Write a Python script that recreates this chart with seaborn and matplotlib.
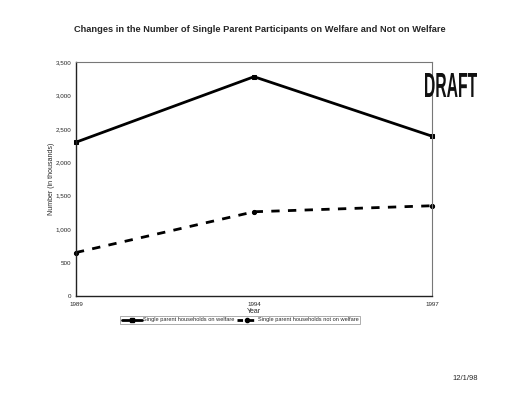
import pandas as pd
import matplotlib
matplotlib.use("Agg")
import matplotlib.pyplot as plt
import seaborn as sns
from matplotlib.lines import Line2D
from matplotlib.textpath import TextPath
from matplotlib.patches import PathPatch
from matplotlib.font_manager import FontProperties

# data (thousands)
years = ["1989", "1994", "1997"]
on_welfare = [2300, 3280, 2390]
not_on_welfare = [650, 1260, 1350]

df = pd.DataFrame({
    "Year": years * 2,
    "Number": on_welfare + not_on_welfare,
    "Group": ["Single parent households on welfare"] * 3
             + ["Single parent households not on welfare"] * 3,
})

sns.set_style("white")
plt.rcParams["font.family"] = ["Liberation Sans", "DejaVu Sans"]

fig = plt.figure(figsize=(5.2, 4), dpi=100)
ax = fig.add_axes([0.146, 0.26, 0.685, 0.585])

sns.lineplot(data=df, x="Year", y="Number", hue="Group", style="Group",
             palette=["black", "black"], dashes=[(None, None), (3, 3)],
             markers=["s", "o"], markersize=3, linewidth=2, ax=ax,
             markeredgecolor="black", legend=False)
for ln in ax.lines:
    ln.set_clip_on(False)

ax.set_ylim(0, 3500)
ax.set_xlim(0, 2)
ax.set_yticks(range(0, 3501, 500))
ax.set_yticklabels([f"{v:,}" for v in range(0, 3501, 500)], fontsize=4.5)
ax.tick_params(axis="x", labelsize=4.5, length=2, pad=2)
ax.tick_params(axis="y", length=2, pad=1.5)
ax.set_ylabel("Number (in thousands)", fontsize=5)
ax.yaxis.set_label_coords(-0.06, 0.5)
ax.set_xlabel("Year", fontsize=5, labelpad=1)

for side in ["left", "bottom"]:
    ax.spines[side].set_color("#222222")
    ax.spines[side].set_linewidth(1)
for side in ["top", "right"]:
    ax.spines[side].set_color("#777777")
    ax.spines[side].set_linewidth(0.8)

# legend
handles = [
    Line2D([], [], color="black", lw=2, marker="s", markersize=3),
    Line2D([], [], color="black", lw=2, ls=(0, (2, 2)), marker="o", markersize=3),
]
labels = ["Single parent households on welfare",
          "Single parent households not on welfare"]
leg = fig.legend(handles, labels, loc="center", bbox_to_anchor=(0.462, 0.2),
                 ncol=2, fontsize=4.1, frameon=True, fancybox=False,
                 handlelength=3.5, handletextpad=0.2, columnspacing=0.4,
                 borderpad=0.3, edgecolor="#888888")
leg.get_frame().set_linewidth(0.6)

fig.text(0.5, 0.925, "Changes in the Number of Single Parent Participants on Welfare and Not on Welfare",
         ha="center", va="center", fontsize=6.7, fontweight="bold")

# condensed "DRAFT" stamp: text path stretched into its box
tp = TextPath((0, 0), "DRAFT", size=20,
              prop=FontProperties(family="Liberation Sans", weight="bold"))
bb = tp.get_extents()
stamp = fig.add_axes([425 / 520, 1 - 97 / 400, 52 / 520, 24 / 400])
stamp.add_patch(PathPatch(tp, facecolor="#111111", edgecolor="none"))
stamp.set_xlim(bb.x0, bb.x1)
stamp.set_ylim(bb.y0, bb.y1)
stamp.axis("off")

fig.text(0.895, 0.055, "12/1/98", ha="center", va="center", fontsize=5.5)

fig.savefig("out.png", dpi=100)
